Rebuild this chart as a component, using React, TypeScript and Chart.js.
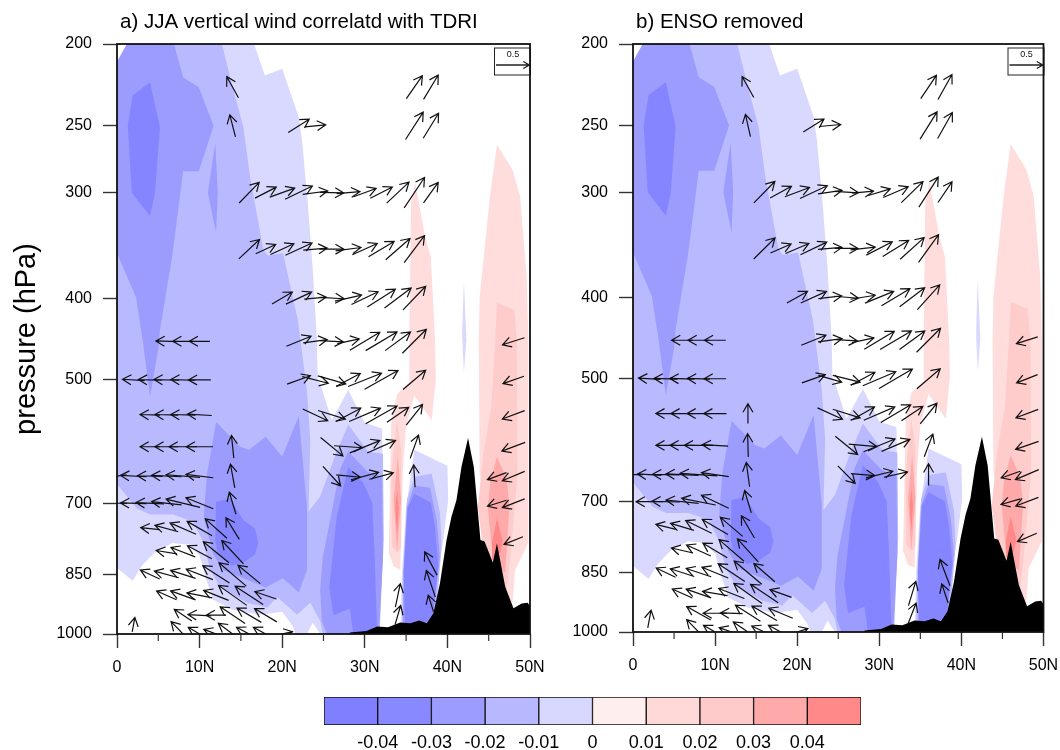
import React, { useEffect, useRef } from "react";
import { Chart, registerables } from "chart.js";

Chart.register(...registerables);

type Pt = [number, number];
type Row = [number, number[][]];

const FONT = "'Liberation Sans', Arial, sans-serif";
const pressureTicks = [200, 250, 300, 400, 500, 700, 850, 1000];
const minorLatTicks = [5, 15, 25, 35, 45];
const colorBarBounds = [-0.05, -0.04, -0.03, -0.02, -0.01, 0, 0.01, 0.02, 0.03, 0.04, 0.05];
const colorBarColors = ["#7F7FFF", "#8888FF", "#9C9CFF", "#B8B8FF", "#D8D8FF", "#FFEEEE", "#FFD8D8", "#FFCACA", "#FFAAAA", "#FF8888"];
const refVector = 0.5;

// correlation contours: [latitude, pressure]
const neg1: Pt[] = [[0,210],[1.2,200],[16.6,200],[17.9,218],[20,214],[20.9,227],[22,244],[22.4,260],[23.1,309],[23.7,370],[24.2,448],[24.3,502],[24.6,505],[26,558],[28,514],[30,562],[32.1,571],[32.2,708],[32,846],[31.7,1000],[24.6,1000],[23.7,970],[23,1000],[21.6,1000],[21.3,980],[20,941],[17.3,949],[14,936],[11.6,910],[10.7,855],[10,808],[8.8,784],[6.7,780],[4.6,800],[3,830],[1.9,865],[0,835]];
const neg2: Pt[] = [[0,210],[1.2,200],[12.7,200],[14,225],[15.3,251],[16.1,287],[17.7,350],[18.2,356],[20.1,354],[21.9,425],[22.2,448],[23,515],[23.4,590],[23.2,716],[24.6,687],[26.6,608],[28,565],[30.4,608],[32.2,612],[32.3,774],[32.1,846],[31.8,1000],[24.9,1000],[24.6,965],[23.4,918],[21.8,949],[19.4,904],[18.2,930],[15.7,918],[12.5,880],[11.3,840],[10.4,776],[9.2,736],[6.8,722],[4,722],[2.4,710],[0,664]];
const neg3Upper: Pt[] = [[0,210],[1.2,200],[6.9,200],[8,219],[9.9,225],[11.7,250],[9.9,283],[8,283],[6.7,356],[5.2,436],[5,460],[4,523],[3.1,448],[2.3,399],[0,354]];
const neg3Lens: Pt[] = [[11.9,262],[12.2,300],[12,335],[11,300]];
const neg3Mid: Pt[] = [[12,561],[14.9,600],[16,605],[18,584],[20,616],[22,552],[23,708],[23,840],[22,893],[20.1,859],[18,881],[15.7,862],[12.8,840],[11.6,801],[10.5,727],[10.9,646]];
const neg3Low: Pt[] = [[24.9,813],[27,638],[28,608],[30.3,642],[32.1,652],[32.2,813],[31.7,1000],[25.4,1000],[24.8,965],[24.6,885]];
const neg4Upper: Pt[] = [[4,222],[5.2,251],[4.6,300],[4,320],[1.8,300],[1.3,250],[1.9,230]];
const neg4Mid: Pt[] = [[12,697],[13.7,691],[15.3,733],[16.7,750],[17.1,780],[16.7,805],[15.3,823],[13.9,830],[12.2,801],[11.9,775]];
const neg4Low: Pt[] = [[28,634],[29.8,662],[30.9,699],[31.2,813],[31.5,1000],[28.6,1000],[28.2,933],[26.2,950],[25.7,880],[26.6,727]];
const col1: Pt[] = [[36,605],[40,632],[40.1,694],[39.5,772],[38.3,910],[38.3,1000],[34.3,1000],[34.5,845],[35,708]];
const col2: Pt[] = [[36,651],[38.1,646],[39.1,718],[39.3,788],[38.7,928],[38.7,1000],[34.5,1000],[34.6,862],[35.1,694]];
const col3: Pt[] = [[36,667],[37.9,671],[38.7,732],[39.1,810],[38.3,943],[38.3,1000],[34.6,1000],[34.7,845],[35.1,708]];
const col4: Pt[] = [[36,682],[38,699],[38.5,748],[38.9,832],[38.3,943],[37.5,968],[34.9,1000],[34.7,845],[35.2,708]];
const sliver: Pt[] = [[42,381],[42.3,448],[42,490],[41.8,448],[41.8,435]];
const pinkA1: Pt[] = [[36.1,292],[37.3,338],[38,358],[38.5,448],[38.6,499],[38.1,558],[36,522],[35,567],[34.6,644],[34.3,839],[33.5,832],[32.9,801],[33.2,562],[33.9,520],[34.6,512],[35.4,503],[35.4,448],[35.6,308]];
const pinkA2: Pt[] = [[33.9,558],[34.4,605],[34.4,788],[34,801],[33.3,788],[33.2,644]];
const pinkA3: Pt[] = [[34,616],[34.4,694],[33.9,801],[33.5,694]];
const pinkA4: Pt[] = [[33.9,675],[34.1,708],[33.9,760],[33.7,708]];
const pinkB1: Pt[] = [[46,263],[47.9,282],[48.8,303],[49.6,378],[49.8,448],[49.8,780],[48.2,840],[47.9,918],[47,910],[45.5,821],[43.9,644],[43.8,448],[43.9,399],[45.2,300]];
const pinkB2: Pt[] = [[46,405],[48.1,413],[48.4,448],[48.5,644],[47.6,816],[47,918],[45.5,823],[44.2,774],[43.7,708],[44.3,616],[45.3,539],[45.8,448]];
const pinkB3: Pt[] = [[46,616],[47.2,656],[47.5,708],[47,846],[45.5,816],[44.9,708],[45.2,660]];
const pinkB4: Pt[] = [[46,729],[46.7,776],[46.4,801],[45.5,816],[45.4,780]];
const terrain: Pt[] = [[28.2,1000],[28.2,996],[30.2,992],[31.5,980],[32.8,982],[34.3,969],[35.5,971],[36.6,964],[37.5,971],[38.3,945],[39.1,871],[39.9,774],[40.5,726],[41.1,694],[41.7,634],[42.5,586],[43.2,634],[44,774],[44.5,777],[45.5,823],[46,781],[47,879],[48,932],[49,920],[49.7,918],[50,926],[50,1000]];

const layers: [Pt[], string][] = [
  [neg1, "#D9D9FF"], [neg2, "#B9B9FF"], [neg3Upper, "#9C9CFF"], [neg3Lens, "#9C9CFF"], [neg3Mid, "#9C9CFF"], [neg3Low, "#9C9CFF"],
  [neg4Upper, "#8585FF"], [neg4Mid, "#8585FF"], [neg4Low, "#8585FF"],
  [col1, "#D9D9FF"], [col2, "#B9B9FF"], [col3, "#9C9CFF"], [col4, "#8585FF"], [sliver, "#D9D9FF"],
  [pinkA1, "#FFDDDD"], [pinkA2, "#FFCCCC"], [pinkA3, "#FFAAAA"], [pinkA4, "#FF8888"],
  [pinkB1, "#FFDDDD"], [pinkB2, "#FFCCCC"], [pinkB3, "#FFAAAA"], [pinkB4, "#FF8888"],
  [terrain, "#000000"],
];

// wind vectors per pressure level: [latitude, meridional, vertical]
const vectorsA: Row[] = [
  [225, [[14,-.175,.315],[36,.24,.345],[38,.22,.365]]],
  [250, [[14,-.085,.33],[22,.315,.2],[24,.315,.03],[36,.265,.41],[38,.23,.375]]],
  [300, [[16,.3,.31],[18,.32,.165],[20,.375,.135],[22,.41,.2],[24,.375,.05],[26,.36,-.01],[28,.35,.03],[30,.34,.125],[32,.33,.17],[34,.335,.315],[36,.305,.455],[38,.22,.305]]],
  [350, [[16,.31,.29],[18,.3,.14],[20,.35,.16],[22,.4,.185],[24,.36,.03],[26,.37,0],[28,.38,.05],[30,.375,.17],[32,.385,.23],[34,.365,.32],[36,.305,.405]]],
  [400, [[20,.305,.18],[22,.385,.18],[24,.33,.03],[26,.37,-.02],[28,.4,.09],[30,.4,.19],[32,.42,.265],[34,.4,.3],[36,.34,.355]]],
  [450, [[6,-.32,.01],[8,-.31,0],[10,-.31,0],[22,.37,.15],[24,.36,.05],[26,.35,-.02],[28,.33,.07],[30,.45,.27],[32,.47,.28],[34,.38,.28],[36,.36,.36],[48,-.33,-.105]]],
  [500, [[2,-.33,.02],[4,-.35,.01],[6,-.38,.01],[8,-.37,.01],[10,-.335,0],[22,.35,.125],[24,.39,-.1],[26,.42,-.12],[28,.36,.19],[30,.5,.2],[32,.5,.28],[36,.34,.29],[48,-.315,-.11]]],
  [550, [[4,-.3,.01],[6,-.35,.01],[8,-.37,.01],[10,-.365,.02],[24,.375,-.175],[26,.41,-.13],[28,.375,.2],[30,.47,.2],[32,.47,.265],[34,.325,.225],[36,.245,.31],[48,-.335,-.125]]],
  [600, [[4,-.3,0],[6,-.35,0],[8,-.42,0],[10,-.4,0],[14,-.035,.34],[26,.335,-.275],[28,.425,-.03],[30,.45,.185],[32,.425,.19],[36,.125,.35],[48,-.35,-.13]]],
  [650, [[0,-.29,-.04],[2,-.39,.02],[4,-.38,.01],[6,-.45,.02],[8,-.51,.04],[10,-.41,.05],[14,-.065,.355],[26,.265,-.29],[28,.36,-.035],[30,.415,.11],[32,.36,.095],[36,-.02,.335],[46,-.285,-.105],[48,-.335,-.14]]],
  [700, [[0,-.3,0],[2,-.39,.01],[4,-.42,.02],[6,-.45,.05],[8,-.51,.125],[10,-.41,.165],[14,-.1,.33],[46,-.285,-.09],[48,-.335,-.13]]],
  [750, [[4,-.28,.03],[6,-.35,.095],[8,-.39,.17],[10,-.375,.215],[12,-.325,.29],[14,-.2,.325]]],
  [775, [[48,-.285,-.115]]],
  [800, [[6,-.31,.05],[8,-.365,.14],[10,-.365,.195],[12,-.385,.315],[14,-.325,.35]]],
  [825, [[38,-.185,.35]]],
  [850, [[4,-.29,.135],[6,-.365,.1],[8,-.375,.12],[10,-.4,.155],[12,-.4,.26],[14,-.41,.35],[16,-.335,.275]]],
  [872, [[38,-.135,.4]]],
  [900, [[6,-.3,.13],[8,-.375,.135],[10,-.38,.075],[12,-.375,.15],[14,-.425,.3],[16,-.42,.275],[18,-.325,.11],[34,.075,.35]]],
  [920, [[38,-.08,.25]]],
  [950, [[8,-.265,.175],[10,-.35,.02],[12,-.3,0],[14,-.375,.25],[16,-.365,.215],[18,-.335,.2],[34,.085,.29]]],
  [975, [[2,.04,.215]]],
  [1000, [[8,-.36,.37],[10,-.34,.2],[12,-.37,.14],[14,-.43,.32],[16,-.38,.2],[18,-.37,.2],[20,.31,.07]]],
];

const vectorsB: Row[] = [
  [225, [[14,-.175,.315],[36,.235,.35],[38,.21,.375]]],
  [250, [[14,-.075,.335],[22,.31,.195],[24,.32,.03],[36,.255,.41],[38,.22,.39]]],
  [300, [[16,.315,.32],[18,.32,.175],[20,.37,.14],[22,.41,.19],[24,.36,.05],[26,.36,-.02],[28,.32,.03],[30,.33,.1],[32,.375,.16],[34,.325,.315],[36,.29,.45],[38,.21,.31]]],
  [350, [[16,.32,.315],[18,.31,.135],[20,.35,.15],[22,.395,.19],[24,.36,.03],[26,.35,0],[28,.37,.04],[30,.39,.2],[32,.39,.24],[34,.36,.325],[36,.3,.415]]],
  [400, [[20,.31,.175],[22,.385,.175],[24,.35,.04],[26,.36,-.03],[28,.37,.06],[30,.43,.175],[32,.425,.255],[34,.375,.285],[36,.335,.37]]],
  [450, [[6,-.32,0],[8,-.32,0],[10,-.32,0],[22,.37,.15],[24,.36,.05],[26,.33,-.02],[28,.33,.07],[30,.45,.27],[32,.47,.28],[34,.38,.28],[36,.36,.36],[48,-.32,-.1]]],
  [500, [[2,-.33,.02],[4,-.355,.01],[6,-.37,.01],[8,-.34,.01],[10,-.33,0],[22,.35,.125],[24,.35,-.1],[26,.41,-.1],[28,.36,.195],[30,.495,.21],[32,.5,.29],[36,.35,.3],[48,-.315,-.125]]],
  [550, [[4,-.3,0],[6,-.34,0],[8,-.35,0],[10,-.34,0],[14,0,.3],[24,.375,-.17],[26,.41,-.13],[28,.35,.2],[30,.465,.2],[32,.45,.265],[34,.32,.215],[36,.25,.31],[48,-.335,-.125]]],
  [600, [[4,-.3,0],[6,-.37,0],[8,-.43,0],[10,-.39,.02],[14,-.01,.35],[26,.335,-.275],[28,.425,-.04],[30,.47,.19],[32,.425,.18],[36,.13,.34],[48,-.345,-.12]]],
  [650, [[0,-.3,0],[2,-.36,.02],[4,-.4,.01],[6,-.49,.02],[8,-.56,.04],[10,-.41,.06],[14,-.05,.365],[26,.26,-.26],[28,.36,-.03],[30,.405,.1],[32,.355,.08],[36,0,.325],[46,-.285,-.1],[48,-.35,-.15]]],
  [700, [[2,-.4,0],[4,-.42,.01],[6,-.49,.05],[8,-.51,.1],[10,-.41,.195],[14,-.1,.335],[46,-.29,-.085],[48,-.34,-.13]]],
  [750, [[4,-.3,.075],[6,-.35,.105],[8,-.39,.19],[10,-.385,.225],[12,-.335,.285],[14,-.195,.335]]],
  [772, [[48,-.29,-.125]]],
  [800, [[6,-.325,.075],[8,-.365,.165],[10,-.365,.22],[12,-.375,.325],[14,-.315,.35]]],
  [850, [[4,-.29,.14],[6,-.36,.115],[8,-.375,.125],[10,-.395,.16],[12,-.4,.265],[14,-.415,.35],[16,-.315,.275],[38,-.15,.395]]],
  [900, [[6,-.3,.135],[8,-.375,.13],[10,-.375,.065],[12,-.385,.15],[14,-.425,.3],[16,-.415,.275],[18,-.325,.115],[34,.11,.365],[38,-.095,.285]]],
  [950, [[8,-.36,.2],[10,-.36,0],[12,-.335,.01],[14,-.375,.24],[16,-.375,.215],[18,-.36,.15],[34,.12,.305]]],
  [965, [[2,.05,.265]]],
  [1000, [[8,-.36,.37],[10,-.35,.2],[12,-.37,.13],[14,-.44,.3],[16,-.38,.18],[18,-.37,.2],[20,.32,.1]]],
];

const UNIT_PX = 200 / 3;

function arrow(ctx: CanvasRenderingContext2D, x0: number, y0: number, x1: number, y1: number, barb: number) {
  const a = Math.atan2(y1 - y0, x1 - x0);
  ctx.beginPath();
  ctx.moveTo(x0, y0);
  ctx.lineTo(x1, y1);
  ctx.moveTo(x1 - barb * Math.cos(a - 0.52), y1 - barb * Math.sin(a - 0.52));
  ctx.lineTo(x1, y1);
  ctx.lineTo(x1 - barb * Math.cos(a + 0.52), y1 - barb * Math.sin(a + 0.52));
  ctx.stroke();
}

const panelPlugin = {
  id: "panelDecor",
  afterLayout(chart: any) {
    if (chart.titleBlock) {
      chart.titleBlock.left += 3;
      chart.titleBlock.right += 3;
    }
  },
  afterDatasetsDraw(chart: any, _a: any, opts: any) {
    const { ctx, chartArea: ca, scales } = chart;
    ctx.save();
    ctx.beginPath();
    ctx.rect(ca.left, ca.top, ca.width, ca.height);
    ctx.clip();
    ctx.strokeStyle = "#111";
    ctx.lineWidth = 1.2;
    for (const [p, vecs] of opts.rows as Row[]) {
      const cy = scales.y.getPixelForValue(p);
      for (const [lat, u, w] of vecs) {
        const cx = scales.x.getPixelForValue(lat);
        const dx = (u * UNIT_PX) / 2;
        const dy = (-w * UNIT_PX) / 2;
        arrow(ctx, cx - dx, cy - dy, cx + dx, cy + dy, 10);
      }
    }
    ctx.restore();

    // reference vector box
    ctx.save();
    const boxW = 36;
    const bx = ca.right - boxW;
    const by = ca.top + 3.5;
    ctx.fillStyle = "#fff";
    ctx.fillRect(bx, by, boxW, 27);
    ctx.strokeStyle = "#222";
    ctx.lineWidth = 1;
    ctx.strokeRect(bx + 0.5, by + 0.5, boxW, 27);
    ctx.fillStyle = "#111";
    ctx.font = `9px ${FONT}`;
    ctx.textAlign = "center";
    ctx.textBaseline = "middle";
    ctx.fillText(String(refVector), bx + 19, by + 7);
    ctx.lineWidth = 1.3;
    arrow(ctx, bx + 2, by + 17.5, bx + 2 + refVector * UNIT_PX, by + 17.5, 7);
    ctx.restore();

    // frame and minor ticks
    ctx.save();
    ctx.strokeStyle = "#111";
    ctx.lineWidth = 1.8;
    ctx.strokeRect(ca.left, ca.top, ca.width, ca.height);
    ctx.lineWidth = 1.2;
    ctx.strokeStyle = "#333";
    for (const lat of minorLatTicks) {
      const x = scales.x.getPixelForValue(lat);
      ctx.beginPath();
      ctx.moveTo(x, ca.bottom);
      ctx.lineTo(x, ca.bottom + 7);
      ctx.stroke();
    }
    ctx.restore();
  },
};

function makePanel(canvas: HTMLCanvasElement, title: string, rows: Row[], g: any, yTitle: string) {
  return new Chart(canvas, {
    type: "scatter",
    data: {
      datasets: layers.map(([poly, color], i) => ({
        data: poly.map(([x, y]) => ({ x, y })),
        showLine: true,
        fill: "shape",
        backgroundColor: color,
        borderColor: color,
        borderWidth: 0,
        pointRadius: 0,
        tension: 0,
        order: layers.length - i,
      })),
    },
    plugins: [panelPlugin],
    options: {
      animation: false,
      responsive: false,
      events: [],
      layout: { autoPadding: false, padding: { left: 0, right: g.right, top: 0, bottom: 0 } },
      scales: {
        x: {
          type: "linear",
          min: 0,
          max: 50,
          afterFit: (s: any) => { s.height = g.xh; },
          border: { display: false },
          grid: { drawOnChartArea: false, tickLength: 14, tickColor: "#333", tickWidth: 1.4 },
          ticks: {
            stepSize: 10,
            padding: 10,
            maxRotation: 0,
            color: "#000",
            font: { family: FONT, size: 16 },
            callback: (v: any) => (v === 0 ? "0" : `${v}N`),
          },
        },
        y: {
          type: "logarithmic",
          reverse: true,
          min: 200,
          max: 1000,
          afterFit: (s: any) => { s.width = g.yw; },
          afterBuildTicks: (s: any) => { s.ticks = pressureTicks.map((value) => ({ value })); },
          border: { display: false },
          grid: { drawOnChartArea: false, tickLength: 14, tickColor: "#333", tickWidth: 1.4 },
          title: yTitle
            ? { display: true, text: yTitle, color: "#000", font: { family: FONT, size: 29 }, padding: { top: 10, bottom: 0 } }
            : { display: false },
          ticks: {
            autoSkip: false,
            padding: 11,
            color: "#000",
            font: { family: FONT, size: 16 },
            callback: (v: any) => String(v),
          },
        },
      },
      plugins: {
        legend: { display: false },
        tooltip: { enabled: false },
        title: {
          display: true,
          text: title,
          align: "start",
          fullSize: false,
          color: "#000",
          font: { family: FONT, size: 20.5, weight: "normal", lineHeight: "25px" },
          padding: { top: 10, bottom: 9 },
        },
        panelDecor: { rows },
      },
    } as any,
  } as any);
}

function makeColorBar(canvas: HTMLCanvasElement) {
  return new Chart(canvas, {
    type: "bar",
    data: {
      labels: [""],
      datasets: colorBarColors.map((color, i) => ({
        data: [[colorBarBounds[i], colorBarBounds[i + 1]]],
        backgroundColor: color,
        borderColor: "#111",
        borderWidth: 1,
        borderSkipped: false,
        barPercentage: 1,
        categoryPercentage: 1,
        grouped: false,
      })),
    },
    options: {
      indexAxis: "y",
      animation: false,
      responsive: false,
      events: [],
      layout: { autoPadding: false, padding: { left: 24, right: 39, top: 12, bottom: 0 } },
      scales: {
        x: {
          type: "linear",
          min: -0.05,
          max: 0.05,
          afterFit: (s: any) => { s.height = 25; },
          border: { display: false },
          grid: { display: false, drawTicks: false },
          ticks: {
            stepSize: 0.01,
            padding: 7,
            maxRotation: 0,
            autoSkip: false,
            color: "#000",
            font: { family: FONT, size: 18 },
            callback: (v: any) => {
              const n = Number(v);
              if (Math.abs(n) < 1e-9) return "0";
              return Math.abs(n) > 0.045 ? "" : n.toFixed(2);
            },
          },
        },
        y: { display: false },
      },
      plugins: { legend: { display: false }, tooltip: { enabled: false } },
    } as any,
  } as any);
}

export default function App() {
  const a = useRef<HTMLCanvasElement>(null);
  const b = useRef<HTMLCanvasElement>(null);
  const c = useRef<HTMLCanvasElement>(null);
  useEffect(() => {
    const charts = [
      makePanel(a.current!, "a) JJA vertical wind correlatd with TDRI", vectorsA, { right: 30, xh: 46, yw: 117 }, "pressure (hPa)"),
      makePanel(b.current!, "b) ENSO removed", vectorsB, { right: 36.5, xh: 48, yw: 73 }, ""),
      makeColorBar(c.current!),
    ];
    return () => charts.forEach((ch) => ch.destroy());
  }, []);
  const pos = (left: number, top: number): React.CSSProperties => ({ position: "absolute", left, top });
  return (
    <div style={{ position: "absolute", left: 0, top: 0, width: 1060, height: 750, background: "#fff", overflow: "hidden" }}>
      <canvas ref={a} width={560} height={680} style={pos(0, 0)} />
      <canvas ref={b} width={520} height={680} style={pos(560, 0)} />
      <canvas ref={c} width={600} height={65} style={pos(300, 685)} />
    </div>
  );
}
